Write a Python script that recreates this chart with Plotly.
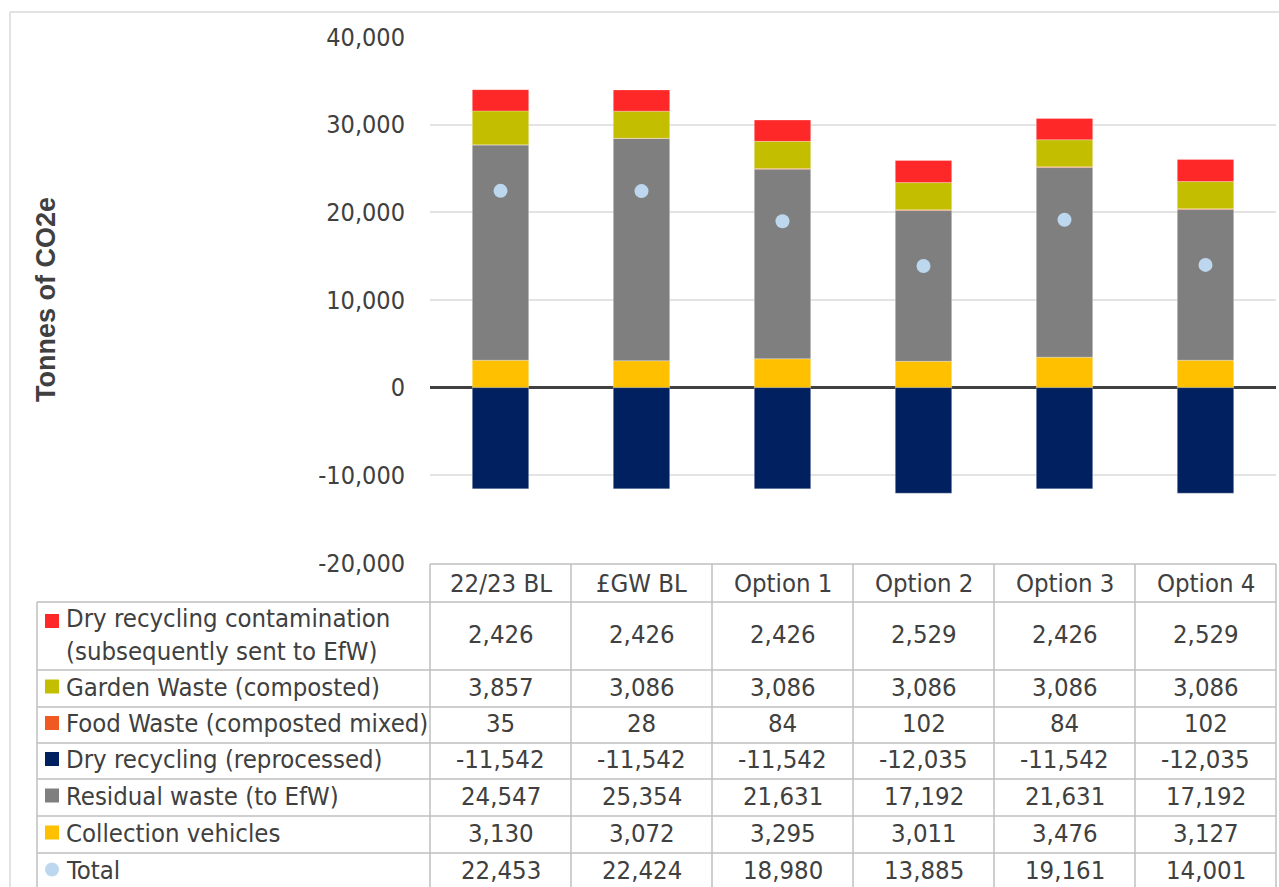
import plotly.graph_objects as go

categories = ["22/23 BL", "£GW BL", "Option 1", "Option 2", "Option 3", "Option 4"]
contamination = [2426, 2426, 2426, 2529, 2426, 2529]
garden = [3857, 3086, 3086, 3086, 3086, 3086]
food = [35, 28, 84, 102, 84, 102]
dry_recycling = [-11542, -11542, -11542, -12035, -11542, -12035]
residual = [24547, 25354, 21631, 17192, 21631, 17192]
vehicles = [3130, 3072, 3295, 3011, 3476, 3127]
total = [22453, 22424, 18980, 13885, 19161, 14001]

y_tick_vals = [-20000, -10000, 0, 10000, 20000, 30000, 40000]
y_tick_text = ["-20,000", "-10,000", "0", "10,000", "20,000", "30,000", "40,000"]

label_contamination = "Dry recycling contamination<br>(subsequently sent to EfW)"
label_garden = "Garden Waste (composted)"
label_food = "Food Waste (composted mixed)"
label_dry = "Dry recycling (reprocessed)"
label_residual = "Residual waste (to EfW)"
label_vehicles = "Collection vehicles"
label_total = "Total"

C_CONT = "#FF2828"
C_GARDEN = "#C3BE00"
C_FOOD = "#F05A22"
C_DRY = "#002060"
C_RES = "#7F7F7F"
C_VEH = "#FFC000"
C_TOT = "#BDD7EE"

W, H = 1279, 887
FONT = "Tahoma, 'DejaVu Sans Condensed', 'DejaVu Sans', sans-serif"
TXT = "#404040"
FS = 25.5


def px(x):
    return x / W


def py(y):
    return 1 - y / H


fig = go.Figure()
bar_line = dict(color="rgba(255,255,255,0.5)", width=0.5)
for name, vals, col in [
    (label_vehicles, vehicles, C_VEH),
    (label_residual, residual, C_RES),
    (label_food, food, C_FOOD),
    (label_garden, garden, C_GARDEN),
    (label_contamination, contamination, C_CONT),
    (label_dry, dry_recycling, C_DRY),
]:
    fig.add_trace(go.Bar(x=categories, y=vals, name=name, marker=dict(color=col, line=bar_line),
                         showlegend=False))
fig.add_trace(go.Scatter(x=categories, y=total, mode="markers", name=label_total,
                         marker=dict(color=C_TOT, size=14), showlegend=False))

x_left, x_right = 430, 1276
fig.update_layout(
    width=W, height=H,
    margin=dict(l=0, r=0, t=0, b=0, pad=0, autoexpand=False),
    paper_bgcolor="white", plot_bgcolor="white",
    barmode="relative", bargap=0.6,
    font=dict(family=FONT, color=TXT, size=FS),
    xaxis=dict(domain=[px(x_left), px(x_right)], showticklabels=False, showgrid=False,
               zeroline=False, showline=False, ticks="", automargin=False),
    yaxis=dict(domain=[py(563), py(37)], range=[-20000, 40000],
               tickmode="array", tickvals=y_tick_vals, ticktext=y_tick_text,
               showgrid=True, gridcolor="#E3E3E3", gridwidth=1.5,
               zeroline=True, zerolinecolor="#404040", zerolinewidth=2.5,
               tickfont=dict(family=FONT, size=25, color=TXT), ticks="", ticklabelstandoff=24,
               showline=False, automargin=False),
)

shapes = []
LC = "#BFBFBF"
# outer chart border
shapes.append(dict(type="line", xref="paper", yref="paper", x0=px(10), x1=1.0, y0=py(12), y1=py(12),
                   line=dict(color="#D9D9D9", width=1.5)))
shapes.append(dict(type="line", xref="paper", yref="paper", x0=px(10), x1=px(10), y0=py(12), y1=0,
                   line=dict(color="#D9D9D9", width=1.5)))

rows_y = [564, 602, 670, 707, 743, 779, 816, 853, 890]
label_left = 37
ncat = len(categories)
col_w = (x_right - x_left) / ncat
col_x = [x_left + i * col_w for i in range(ncat + 1)]

# header top
shapes.append(dict(type="line", xref="paper", yref="paper", x0=px(x_left), x1=px(x_right),
                   y0=py(rows_y[0]), y1=py(rows_y[0]), line=dict(color=LC, width=1.5)))
for yy in rows_y[1:-1]:
    shapes.append(dict(type="line", xref="paper", yref="paper", x0=px(label_left), x1=px(x_right),
                       y0=py(yy), y1=py(yy), line=dict(color=LC, width=1.5)))
shapes.append(dict(type="line", xref="paper", yref="paper", x0=px(label_left), x1=px(label_left),
                   y0=py(rows_y[1]), y1=0, line=dict(color=LC, width=1.5)))
for xx in col_x:
    shapes.append(dict(type="line", xref="paper", yref="paper", x0=px(xx), x1=px(xx),
                       y0=py(rows_y[0]), y1=0, line=dict(color=LC, width=1.5)))

annotations = []
# header
for c in categories:
    annotations.append(dict(x=c, xref="x", y=py((rows_y[0] + rows_y[1]) / 2), yref="paper",
                            text=c, showarrow=False, xanchor="center", yanchor="middle",
                            font=dict(size=FS, color=TXT, family=FONT)))

table_rows = [
    (label_contamination, contamination, C_CONT, "square"),
    (label_garden, garden, C_GARDEN, "square"),
    (label_food, food, C_FOOD, "square"),
    (label_dry, dry_recycling, C_DRY, "square"),
    (label_residual, residual, C_RES, "square"),
    (label_vehicles, vehicles, C_VEH, "square"),
    (label_total, total, C_TOT, "circle"),
]
for r, (lab, vals, col, kind) in enumerate(table_rows):
    top, bot = rows_y[r + 1], rows_y[r + 2]
    cy = (top + bot) / 2 - 2
    sw_y = top + 19 if r == 0 else cy
    annotations.append(dict(x=px(64), xref="paper", y=py(cy), yref="paper", text=lab,
                            showarrow=False, xanchor="left", yanchor="middle", align="left",
                            font=dict(size=FS, color=TXT, family=FONT)))
    if kind == "square":
        shapes.append(dict(type="rect", xref="paper", yref="paper", x0=px(45), x1=px(59),
                           y0=py(sw_y + 7), y1=py(sw_y - 7), fillcolor=col, line=dict(width=0)))
    else:
        shapes.append(dict(type="circle", xref="paper", yref="paper", x0=px(45), x1=px(59),
                           y0=py(sw_y + 7), y1=py(sw_y - 7), fillcolor=col, line=dict(width=0)))
    for c, v in zip(categories, vals):
        annotations.append(dict(x=c, xref="x", y=py(cy), yref="paper", text=f"{v:,}",
                                showarrow=False, xanchor="center", yanchor="middle",
                                font=dict(size=FS, color=TXT, family=FONT)))

# y-axis title
annotations.append(dict(x=px(46), xref="paper", y=py(300), yref="paper", text="<b>Tonnes of CO2e</b>",
                        textangle=-90, showarrow=False, xanchor="center", yanchor="middle",
                        font=dict(size=27, color=TXT, family="'Liberation Sans', Arial, sans-serif")))

fig.update_layout(shapes=shapes, annotations=annotations)
fig.write_html("out.html", config={"displayModeBar": False},
               post_script="document.body.style.margin='0';document.body.style.overflow='hidden';")
